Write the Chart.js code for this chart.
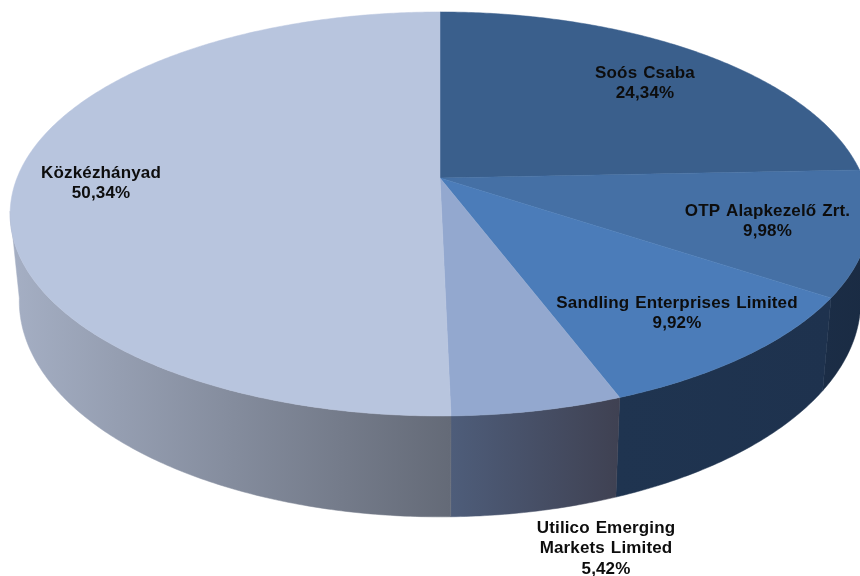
<!DOCTYPE html>
<html>
<head>
<meta charset="utf-8">
<style>html,body{margin:0;padding:0;background:#fff;overflow:hidden}canvas{display:block}</style>
<script src="https://cdn.jsdelivr.net/npm/chart.js@4"></script>
</head>
<body>
<canvas id="c" width="860" height="576"></canvas>
<script>
const categories = ['Soós Csaba', 'OTP Alapkezelő Zrt.', 'Sandling Enterprises Limited', ['Utilico Emerging', 'Markets Limited'], 'Közkézhányad'];
const shares = [24.34, 9.98, 9.92, 5.42, 50.34];
const topColors = ['#3a5f8c', '#4570a5', '#4b7cb9', '#93a8cf', '#b8c5de'];
const sideStops = [['#1b2b42', '#1b2b42'], ['#1b2d46', '#1a2b43'], ['#1f3450', '#1e324e'], ['#4e5d7a', '#3f4152'], ['#a5afc4', '#646a77']];
const labelAnchors = [[645, 73], [767.5, 211], [677, 303], [606, 528.5], [101, 173]];

const topFace = {cx: 440, cy: 178, rx: 423, ry: 195.6, k: 0.178};
const baseFace = {cx: 440, cy: 262.6, rx: 414, ry: 209, k: 0.178};
function project(f, a) {
  const u = Math.cos(a), v = Math.sin(a), w = 1 - f.k * v;
  return [f.cx + f.rx * u / w, f.cy + f.ry * v / w];
}
function angleSteps(a0, a1) {
  const n = Math.max(8, Math.ceil((a1 - a0) / 0.01)), out = [];
  for (let i = 0; i <= n; i++) out.push(a0 + (a1 - a0) * i / n);
  return out;
}

const pie3d = {
  id: 'pie3d',
  beforeDatasetDraw(chart) {
    const ctx = chart.ctx, arcs = chart.getDatasetMeta(0).data;
    ctx.save();
    arcs.forEach((arc, i) => {
      const angles = angleSteps(arc.startAngle, arc.endAngle).filter(a => Math.sin(a) >= topFace.k - 0.02);
      if (angles.length < 2) return;
      const outline = angles.map(a => project(topFace, a)).concat(angles.slice().reverse().map(a => project(baseFace, a)));
      const xs = outline.map(p => p[0]);
      const g = ctx.createLinearGradient(Math.min(...xs), 0, Math.max(...xs), 0);
      g.addColorStop(0, sideStops[i][0]);
      g.addColorStop(1, sideStops[i][1]);
      ctx.beginPath();
      outline.forEach((q, m) => m ? ctx.lineTo(q[0], q[1]) : ctx.moveTo(q[0], q[1]));
      ctx.closePath();
      ctx.fillStyle = g;
      ctx.strokeStyle = g;
      ctx.lineWidth = 0.5;
      ctx.fill();
      ctx.stroke();
    });
    arcs.forEach(arc => {
      ctx.beginPath();
      ctx.moveTo(topFace.cx, topFace.cy);
      angleSteps(arc.startAngle, arc.endAngle).forEach(a => {
        const p = project(topFace, a);
        ctx.lineTo(p[0], p[1]);
      });
      ctx.closePath();
      ctx.fillStyle = arc.options.backgroundColor;
      ctx.strokeStyle = arc.options.backgroundColor;
      ctx.lineWidth = 0.5;
      ctx.fill();
      ctx.stroke();
    });
    ctx.restore();
    return false;
  },
  afterDatasetsDraw(chart) {
    const ctx = chart.ctx;
    ctx.save();
    ctx.font = 'bold 17px "Liberation Sans", Arial, sans-serif';
    ctx.fillStyle = '#0d0d0d';
    ctx.textAlign = 'center';
    ctx.textBaseline = 'middle';
    ctx.letterSpacing = '0.15px';
    ctx.wordSpacing = '1px';
    categories.forEach((name, i) => {
      const lines = [].concat(name, shares[i].toFixed(2).replace('.', ',') + '%');
      lines.forEach((line, j) => {
        ctx.fillText(line, labelAnchors[i][0], labelAnchors[i][1] + j * 20.2);
      });
    });
    ctx.restore();
  }
};

new Chart(document.getElementById('c'), {
  type: 'pie',
  data: {labels: categories, datasets: [{data: shares, backgroundColor: topColors, borderWidth: 0}]},
  options: {
    responsive: false,
    animation: false,
    plugins: {legend: {display: false}, tooltip: {enabled: false}}
  },
  plugins: [pie3d]
});
</script>
</body>
</html>
